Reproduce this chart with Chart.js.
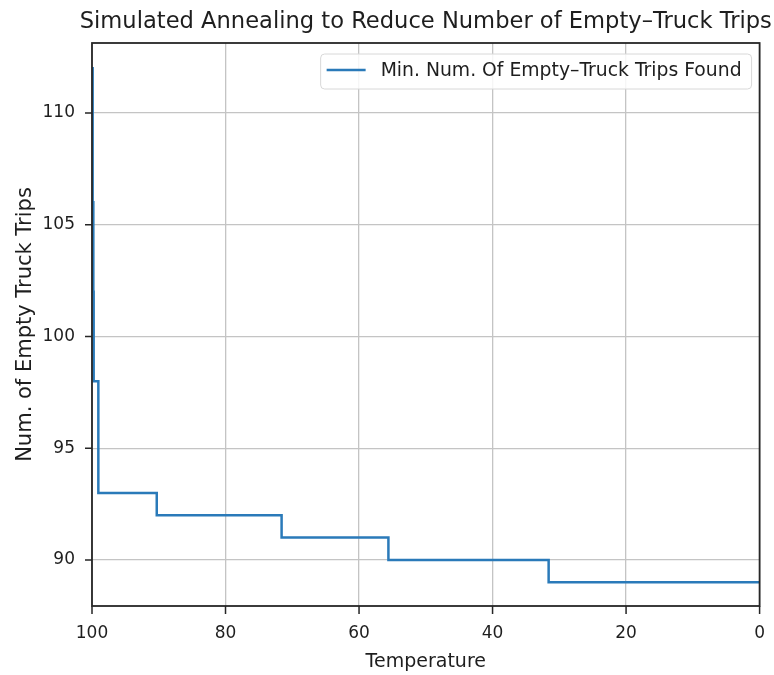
<!DOCTYPE html>
<html>
<head>
<meta charset="utf-8">
<script src="https://cdn.jsdelivr.net/npm/chart.js@4"></script>
<style>
html,body{margin:0;padding:0;background:#fff;}
#wrap{width:774px;height:675px;}
</style>
</head>
<body>
<div id="wrap"><canvas id="c" width="774" height="675"></canvas></div>
<script>
const temperatures = [100, 99.9, 99.8, 99.75, 99.05, 90.3, 71.6, 55.6, 31.6, 0];
const minTrips = [112, 106, 102, 98, 93, 92, 91, 90, 89, 89];
const xTicks = [100, 80, 60, 40, 20, 0];
const yTicks = [90, 95, 100, 105, 110];
const seriesLabel = 'Min. Num. Of Empty\u2013Truck Trips Found';
const chartTitle = 'Simulated Annealing to Reduce Number of Empty\u2013Truck Trips';

const FONT = "'DejaVu Sans', sans-serif";
const TEXT = '#1e1e1e';
const points = temperatures.map((t, i) => ({x: t, y: minTrips[i]}));

const titlePlugin = {
  id: 'mplTitle',
  afterDraw(chart) {
    const ctx = chart.ctx, ca = chart.chartArea;
    ctx.save();
    ctx.font = "22.6px " + FONT;
    ctx.fillStyle = TEXT;
    ctx.textAlign = 'center';
    ctx.textBaseline = 'alphabetic';
    ctx.fillText(chartTitle, (ca.left + ca.right) / 2, 28);
    ctx.restore();
  }
};

const legendPlugin = {
  id: 'mplLegend',
  afterDatasetsDraw(chart) {
    const ctx = chart.ctx;
    const ca = chart.chartArea;
    const ds = chart.data.datasets[0];
    ctx.save();
    ctx.font = "18.8px " + FONT;
    const tw = ctx.measureText(ds.label).width;
    const w = tw + 70, h = 35;
    const x = ca.right - 8 - w, y = ca.top + 11;
    ctx.beginPath();
    const r = 4;
    ctx.moveTo(x + r, y);
    ctx.arcTo(x + w, y, x + w, y + h, r);
    ctx.arcTo(x + w, y + h, x, y + h, r);
    ctx.arcTo(x, y + h, x, y, r);
    ctx.arcTo(x, y, x + w, y, r);
    ctx.closePath();
    ctx.fillStyle = 'rgba(255,255,255,0.85)';
    ctx.fill();
    ctx.strokeStyle = '#d8d8d8';
    ctx.lineWidth = 1;
    ctx.stroke();
    ctx.beginPath();
    ctx.moveTo(x + 6, y + 16);
    ctx.lineTo(x + 45, y + 16);
    ctx.strokeStyle = ds.borderColor;
    ctx.lineWidth = 2.5;
    ctx.stroke();
    ctx.fillStyle = TEXT;
    ctx.textBaseline = 'middle';
    ctx.fillText(ds.label, x + 60, y + 17);
    ctx.restore();
  }
};

const spinePlugin = {
  id: 'spines',
  afterDraw(chart) {
    const ctx = chart.ctx, ca = chart.chartArea;
    const xs = chart.scales.x, ys = chart.scales.y;
    ctx.save();
    ctx.strokeStyle = '#262626';
    ctx.lineWidth = 1.8;
    ctx.strokeRect(ca.left, ca.top, ca.right - ca.left, ca.bottom - ca.top);
    ctx.lineWidth = 1.5;
    ctx.beginPath();
    xs.ticks.forEach(t => {
      const px = xs.getPixelForValue(t.value);
      ctx.moveTo(px, ca.bottom);
      ctx.lineTo(px, ca.bottom + 8);
    });
    ys.ticks.forEach(t => {
      const py = ys.getPixelForValue(t.value);
      ctx.moveTo(ca.left, py);
      ctx.lineTo(ca.left - 7, py);
    });
    ctx.stroke();
    ctx.restore();
  }
};

new Chart(document.getElementById('c'), {
  type: 'line',
  data: {
    datasets: [{
      label: seriesLabel,
      data: points,
      stepped: 'before',
      borderColor: '#2a7ab9',
      borderWidth: 2.5,
      pointRadius: 0,
      fill: false
    }]
  },
  options: {
    responsive: false,
    animation: false,
    layout: {padding: {left: 0, right: 13, top: 43, bottom: 0}},
    plugins: {
      legend: {display: false},
      tooltip: {enabled: false},
      title: {display: false}
    },
    scales: {
      x: {
        type: 'linear',
        reverse: true,
        min: 0,
        max: 100,
        afterBuildTicks(scale) { scale.ticks = xTicks.map(v => ({value: v})); },
        afterFit(scale) { scale.height = 69; },
        ticks: {color: TEXT, font: {family: FONT, size: 17}, padding: 9, maxRotation: 0},
        grid: {color: '#c4c4c4', lineWidth: 1.3, tickColor: 'rgba(0,0,0,0)', tickLength: 8, drawTicks: true},
        border: {display: false},
        title: {display: true, text: 'Temperature', color: TEXT, font: {family: FONT, size: 19}, padding: {top: 0, bottom: 2}}
      },
      y: {
        type: 'linear',
        min: 87.94,
        max: 113.13,
        afterBuildTicks(scale) { scale.ticks = yTicks.map(v => ({value: v})); },
        afterFit(scale) { scale.width = 92; },
        ticks: {color: TEXT, font: {family: FONT, size: 17}, padding: 10},
        grid: {color: '#c4c4c4', lineWidth: 1.3, tickColor: 'rgba(0,0,0,0)', tickLength: 7},
        border: {display: false},
        title: {display: true, text: 'Num. of Empty Truck Trips', color: TEXT, font: {family: FONT, size: 21}, padding: {top: 13, bottom: 0}}
      }
    }
  },
  plugins: [legendPlugin, spinePlugin, titlePlugin]
});
</script>
</body>
</html>
